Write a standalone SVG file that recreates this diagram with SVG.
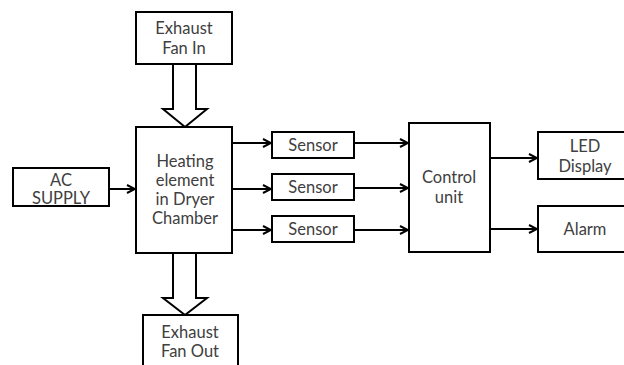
<svg xmlns="http://www.w3.org/2000/svg" width="624" height="365" viewBox="0 0 624 365">
<defs>
<marker id="ah" viewBox="0 0 10 10" refX="9" refY="5" markerWidth="10" markerHeight="10" markerUnits="userSpaceOnUse" orient="auto">
<path d="M1,1 L9,5 L1,9" fill="none" stroke="#000" stroke-width="2"/>
</marker>
</defs>
<style>
.box{fill:#fff;stroke:#000;stroke-width:2}
.t{font-family:Lato,"Open Sans","Liberation Sans",sans-serif;font-size:16.5px;fill:#404040;text-anchor:middle}
.c{fill:none;stroke:#000;stroke-width:2}
.h{fill:#fff;stroke:#000;stroke-width:2;stroke-linejoin:miter}
</style>
<rect width="624" height="365" fill="#fff"/>
<g id="connectors">
<path class="h" d="M173,64 L173,109 L163,109 L185,127 L207,109 L196,109 L196,64"/>
<path class="h" d="M173,253 L173,298 L163,298 L185,315 L207,298 L196,298 L196,253"/>
<line class="c" x1="109" y1="189" x2="135" y2="189" marker-end="url(#ah)"/>
<line class="c" x1="232" y1="143" x2="271" y2="143" marker-end="url(#ah)"/>
<line class="c" x1="232" y1="189" x2="271" y2="189" marker-end="url(#ah)"/>
<line class="c" x1="232" y1="230" x2="271" y2="230" marker-end="url(#ah)"/>
<line class="c" x1="354" y1="143" x2="408" y2="143" marker-end="url(#ah)"/>
<line class="c" x1="354" y1="188" x2="408" y2="188" marker-end="url(#ah)"/>
<line class="c" x1="354" y1="230" x2="408" y2="230" marker-end="url(#ah)"/>
<line class="c" x1="490" y1="158" x2="537" y2="158" marker-end="url(#ah)"/>
<line class="c" x1="490" y1="229" x2="537" y2="229" marker-end="url(#ah)"/>
</g>
<g id="fan-in">
<rect class="box" x="136" y="12" width="96" height="52"/>
<text class="t" x="184" y="34">Exhaust</text>
<text class="t" x="184" y="54">Fan In</text>
</g>
<g id="heating">
<rect class="box" x="136" y="127" width="96" height="126"/>
<text class="t" x="185" y="167">Heating</text>
<text class="t" x="185" y="186">element</text>
<text class="t" x="185" y="205">in Dryer</text>
<text class="t" x="185" y="224">Chamber</text>
</g>
<g id="ac">
<rect class="box" x="13" y="168" width="96" height="38"/>
<text class="t" x="61" y="186">AC</text>
<text class="t" x="61" y="204">SUPPLY</text>
</g>
<g id="sensor1">
<rect class="box" x="272" y="132" width="82" height="26"/>
<text class="t" x="313" y="151">Sensor</text>
</g>
<g id="sensor2">
<rect class="box" x="272" y="174" width="82" height="26"/>
<text class="t" x="313" y="193">Sensor</text>
</g>
<g id="sensor3">
<rect class="box" x="272" y="216" width="82" height="26"/>
<text class="t" x="313" y="235">Sensor</text>
</g>
<g id="control">
<rect class="box" x="409" y="123" width="81" height="129"/>
<text class="t" x="449" y="183">Control</text>
<text class="t" x="449" y="203">unit</text>
</g>
<g id="led">
<rect class="box" x="538" y="132" width="100" height="47"/>
<text class="t" x="585" y="152">LED</text>
<text class="t" x="585" y="172">Display</text>
</g>
<g id="alarm">
<rect class="box" x="538" y="206" width="100" height="46"/>
<text class="t" x="585" y="235">Alarm</text>
</g>
<g id="fan-out">
<rect class="box" x="143" y="315" width="95" height="60"/>
<text class="t" x="190" y="338">Exhaust</text>
<text class="t" x="190" y="357">Fan Out</text>
</g>
</svg>
